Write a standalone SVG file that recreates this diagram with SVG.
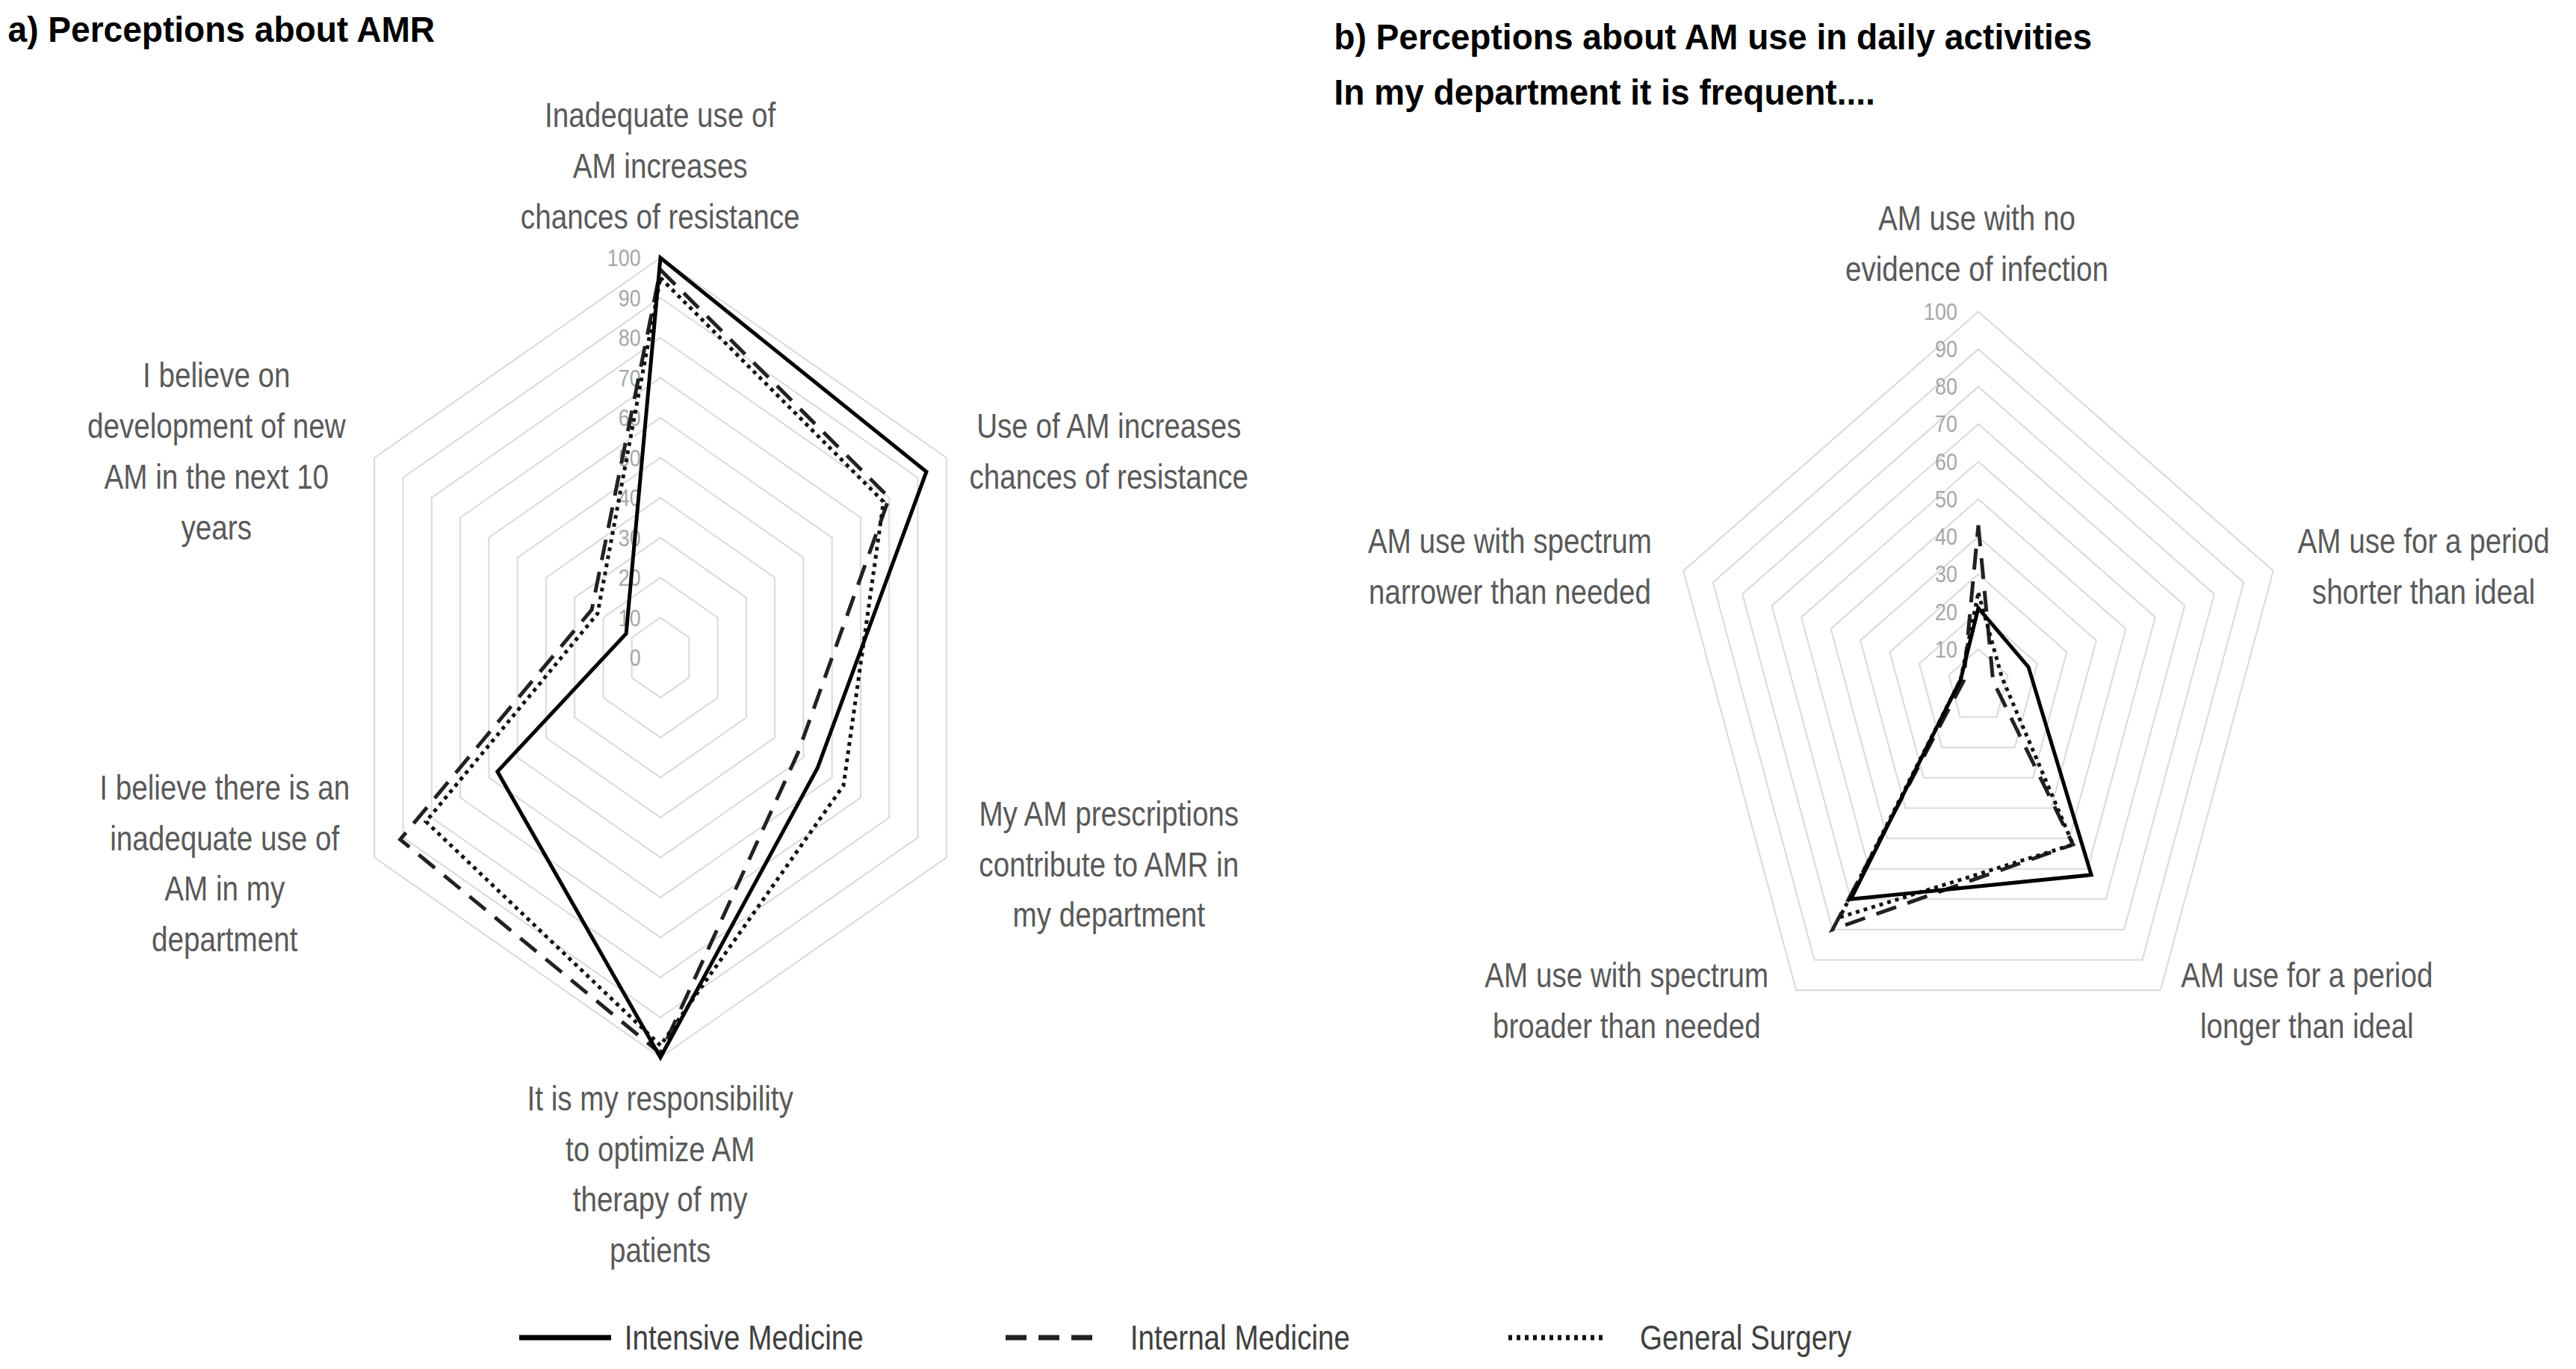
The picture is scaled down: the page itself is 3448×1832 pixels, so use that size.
<svg xmlns="http://www.w3.org/2000/svg" xmlns:xlink="http://www.w3.org/1999/xlink" width="3448" height="1832" viewBox="0 0 3448 1832">
<style>
.grid{fill:none;stroke:#d9d9d9;stroke-width:2}
.lab{font-family:"Liberation Sans",Arial,sans-serif;font-size:46px;fill:#595959;text-anchor:middle}
.leg{font-family:"Liberation Sans",Arial,sans-serif;font-size:46px;fill:#404040}
.tick{font-family:"Liberation Sans",Arial,sans-serif;font-size:32px;fill:#a6a6a6;text-anchor:end}
.title{font-family:"Liberation Sans",Arial,sans-serif;font-size:48px;font-weight:bold;fill:#000}
.s{fill:none;stroke:#000;stroke-width:5;stroke-linejoin:miter}
.d{fill:none;stroke:#222;stroke-width:5;stroke-dasharray:28 16}
.o{fill:none;stroke:#111;stroke-width:5;stroke-dasharray:5 6}
</style>
<defs>
<polygon id="hex" points="0,-535 382.8,-267.5 382.8,267.5 0,535 -382.8,267.5 -382.8,-267.5"/>
<polygon id="pent" points="0,-502 394.7,-155.1 243.9,406.1 -243.9,406.1 -394.7,-155.1"/>
</defs>
<rect width="3448" height="1832" fill="#fff"/>
<g id="titles" transform="scale(0.96,1)">
<text class="title" x="11" y="56">a) Perceptions about AMR</text>
<text class="title" x="1860" y="66">b) Perceptions about AM use in daily activities</text>
<text class="title" x="1860" y="140">In my department it is frequent....</text>
</g>
<g id="chartA-grid" class="grid">
<use href="#hex" transform="translate(884,880) scale(0.1)" style="stroke-width:20"/>
<use href="#hex" transform="translate(884,880) scale(0.2)" style="stroke-width:10"/>
<use href="#hex" transform="translate(884,880) scale(0.3)" style="stroke-width:6.67"/>
<use href="#hex" transform="translate(884,880) scale(0.4)" style="stroke-width:5"/>
<use href="#hex" transform="translate(884,880) scale(0.5)" style="stroke-width:4"/>
<use href="#hex" transform="translate(884,880) scale(0.6)" style="stroke-width:3.33"/>
<use href="#hex" transform="translate(884,880) scale(0.7)" style="stroke-width:2.86"/>
<use href="#hex" transform="translate(884,880) scale(0.8)" style="stroke-width:2.5"/>
<use href="#hex" transform="translate(884,880) scale(0.9)" style="stroke-width:2.22"/>
<use href="#hex" transform="translate(884,880)" style="stroke-width:2"/>
</g>
<g id="chartB-grid" class="grid">
<use href="#pent" transform="translate(2648,919) scale(0.1)" style="stroke-width:20"/>
<use href="#pent" transform="translate(2648,919) scale(0.2)" style="stroke-width:10"/>
<use href="#pent" transform="translate(2648,919) scale(0.3)" style="stroke-width:6.67"/>
<use href="#pent" transform="translate(2648,919) scale(0.4)" style="stroke-width:5"/>
<use href="#pent" transform="translate(2648,919) scale(0.5)" style="stroke-width:4"/>
<use href="#pent" transform="translate(2648,919) scale(0.6)" style="stroke-width:3.33"/>
<use href="#pent" transform="translate(2648,919) scale(0.7)" style="stroke-width:2.86"/>
<use href="#pent" transform="translate(2648,919) scale(0.8)" style="stroke-width:2.5"/>
<use href="#pent" transform="translate(2648,919) scale(0.9)" style="stroke-width:2.22"/>
<use href="#pent" transform="translate(2648,919)" style="stroke-width:2"/>
</g>
<g id="ticks" transform="scale(0.84,1)">
<text class="tick" x="1021" y="891">0</text>
<text class="tick" x="1021" y="838">10</text>
<text class="tick" x="1021" y="784">20</text>
<text class="tick" x="1021" y="731">30</text>
<text class="tick" x="1021" y="677">40</text>
<text class="tick" x="1021" y="624">50</text>
<text class="tick" x="1021" y="570">60</text>
<text class="tick" x="1021" y="517">70</text>
<text class="tick" x="1021" y="463">80</text>
<text class="tick" x="1021" y="410">90</text>
<text class="tick" x="1021" y="356">100</text>
<text class="tick" x="3119" y="880">10</text>
<text class="tick" x="3119" y="830">20</text>
<text class="tick" x="3119" y="779">30</text>
<text class="tick" x="3119" y="729">40</text>
<text class="tick" x="3119" y="679">50</text>
<text class="tick" x="3119" y="629">60</text>
<text class="tick" x="3119" y="578">70</text>
<text class="tick" x="3119" y="528">80</text>
<text class="tick" x="3119" y="478">90</text>
<text class="tick" x="3119" y="428">100</text>
</g>
<g id="connectors">
<polygon class="d" points="884,361.1 1190.2,666 1067.7,1008.4 884,1409.7 535.7,1123.4 792.1,815.8"/>
<polygon class="o" points="884,371.8 1182.6,671.4 1129,1051.2 884,1399 570.1,1099.4 799.8,821.2"/>
<polygon class="s" points="884,345 1240,631.2 1094.5,1027.1 884,1415 665.8,1032.5 838.1,847.9"/>
<polygon class="d" points="2648,703.1 2667.7,911.2 2774.8,1130.2 2452.9,1243.9 2628.3,911.2"/>
<polygon class="o" points="2648,793.5 2679.6,906.6 2774.8,1130.2 2462.6,1227.6 2624.3,909.7"/>
<polygon class="s" points="2648,813.6 2715.1,892.6 2799.2,1170.8 2477.3,1203.3 2624.3,909.7"/>
<line class="s" x1="695" y1="1790" x2="818" y2="1790" style="stroke-width:7"/>
<line class="d" x1="1346" y1="1790" x2="1478" y2="1790" style="stroke-width:7"/>
<line class="o" x1="2019" y1="1790" x2="2151" y2="1790" style="stroke-width:7"/>
</g>
<g id="labelsA" transform="scale(0.84,1)">
<text class="lab" x="1052" y="170">Inadequate use of</text>
<text class="lab" x="1052" y="238">AM increases</text>
<text class="lab" x="1052" y="306">chances of resistance</text>
<text class="lab" x="1767" y="586">Use of AM increases</text>
<text class="lab" x="1767" y="654">chances of resistance</text>
<text class="lab" x="1767" y="1105">My AM prescriptions</text>
<text class="lab" x="1767" y="1173">contribute to AMR in</text>
<text class="lab" x="1767" y="1240">my department</text>
<text class="lab" x="1052" y="1486">It is my responsibility</text>
<text class="lab" x="1052" y="1554">to optimize AM</text>
<text class="lab" x="1052" y="1621">therapy of my</text>
<text class="lab" x="1052" y="1689">patients</text>
<text class="lab" x="358" y="1070">I believe there is an</text>
<text class="lab" x="358" y="1138">inadequate use of</text>
<text class="lab" x="358" y="1205">AM in my</text>
<text class="lab" x="358" y="1273">department</text>
<text class="lab" x="345" y="518">I believe on</text>
<text class="lab" x="345" y="586">development of new</text>
<text class="lab" x="345" y="654">AM in the next 10</text>
<text class="lab" x="345" y="722">years</text>
</g>
<g id="labelsB" transform="scale(0.84,1)">
<text class="lab" x="3150" y="308">AM use with no</text>
<text class="lab" x="3150" y="376">evidence of infection</text>
<text class="lab" x="3862" y="740">AM use for a period</text>
<text class="lab" x="3862" y="808">shorter than ideal</text>
<text class="lab" x="3676" y="1321">AM use for a period</text>
<text class="lab" x="3676" y="1389">longer than ideal</text>
<text class="lab" x="2592" y="1321">AM use with spectrum</text>
<text class="lab" x="2592" y="1389">broader than needed</text>
<text class="lab" x="2406" y="740">AM use with spectrum</text>
<text class="lab" x="2406" y="808">narrower than needed</text>
</g>
<g id="legend" transform="scale(0.84,1)">
<text class="leg" x="995" y="1806">Intensive Medicine</text>
<text class="leg" x="1801" y="1806">Internal Medicine</text>
<text class="leg" x="2613" y="1806">General Surgery</text>
</g>
</svg>
